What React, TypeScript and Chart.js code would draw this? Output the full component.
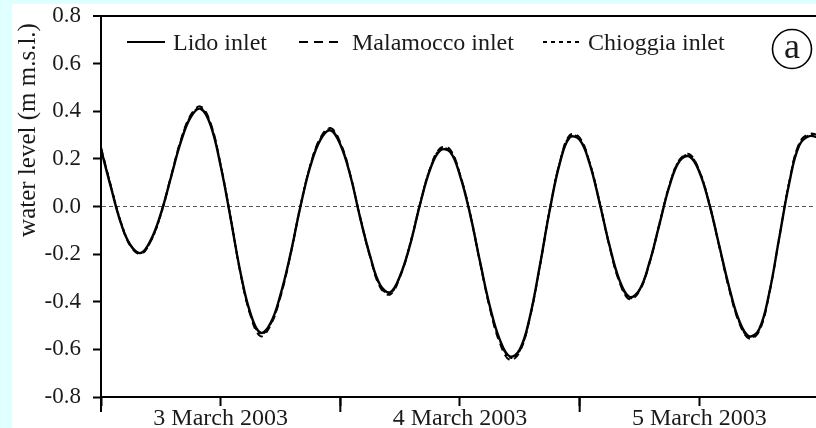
import React, { useEffect, useRef } from 'react';
import { Chart, registerables } from 'chart.js';

Chart.register(...registerables);

// ---- data (hours since 3 March 2003 00:00, water level in m m.s.l.) ----
const hours = [
  0, 1, 2, 3, 4, 5, 6, 7, 8, 9, 10, 11, 12, 13, 14, 15, 16, 17, 18, 19, 20, 21, 22, 23, 24,
  25, 26, 27, 28, 29, 30, 31, 32, 33, 34, 35, 36, 37, 38, 39, 40, 41, 42, 43, 44, 45, 46, 47, 48,
  49, 50, 51, 52, 53, 54, 55, 56, 57, 58, 59, 60, 61, 62, 63, 64, 65, 66, 67, 68, 69, 70, 71, 72,
];

const lido = [
  0.24, 0.08, -0.07, -0.165, -0.195, -0.14, -0.03, 0.12, 0.27, 0.375, 0.41, 0.34, 0.17, -0.05,
  -0.28, -0.45, -0.53, -0.49, -0.37, -0.2, 0.0, 0.17, 0.28, 0.32, 0.26, 0.13, -0.05, -0.21, -0.33,
  -0.36, -0.29, -0.16, 0.01, 0.155, 0.235, 0.23, 0.13, -0.03, -0.23, -0.42, -0.56, -0.63, -0.6,
  -0.465, -0.25, -0.015, 0.18, 0.29, 0.28, 0.18, 0.015, -0.165, -0.31, -0.38, -0.35, -0.235,
  -0.075, 0.085, 0.19, 0.21, 0.145, 0.01, -0.165, -0.34, -0.48, -0.545, -0.515, -0.365, -0.135,
  0.095, 0.255, 0.295, 0.29,
];

const malamocco = [
  0.25, 0.085, -0.07, -0.17, -0.2, -0.145, -0.03, 0.125, 0.28, 0.385, 0.42, 0.35, 0.175, -0.05,
  -0.285, -0.46, -0.545, -0.5, -0.38, -0.205, 0.0, 0.175, 0.29, 0.33, 0.27, 0.135, -0.05, -0.215,
  -0.34, -0.37, -0.295, -0.16, 0.01, 0.16, 0.245, 0.24, 0.135, -0.03, -0.235, -0.43, -0.575,
  -0.645, -0.61, -0.47, -0.255, -0.015, 0.185, 0.3, 0.29, 0.185, 0.015, -0.17, -0.32, -0.39,
  -0.355, -0.24, -0.075, 0.09, 0.195, 0.22, 0.15, 0.01, -0.17, -0.35, -0.49, -0.555, -0.525,
  -0.37, -0.135, 0.1, 0.265, 0.305, 0.3,
];

const chioggia = [
  0.245, 0.085, -0.065, -0.165, -0.195, -0.145, -0.035, 0.12, 0.275, 0.38, 0.415, 0.345, 0.175,
  -0.045, -0.28, -0.455, -0.535, -0.495, -0.375, -0.2, 0.005, 0.175, 0.285, 0.325, 0.265, 0.13,
  -0.045, -0.21, -0.335, -0.365, -0.29, -0.155, 0.015, 0.16, 0.24, 0.235, 0.135, -0.025, -0.23,
  -0.425, -0.565, -0.635, -0.605, -0.465, -0.25, -0.01, 0.185, 0.295, 0.285, 0.185, 0.02, -0.165,
  -0.315, -0.385, -0.35, -0.235, -0.07, 0.09, 0.195, 0.215, 0.15, 0.015, -0.165, -0.345, -0.485,
  -0.55, -0.52, -0.365, -0.13, 0.1, 0.26, 0.3, 0.295,
];

const seriesNames = ['Lido inlet', 'Malamocco inlet', 'Chioggia inlet'];
const dayLabels = ['3 March 2003', '4 March 2003', '5 March 2003'];
const dayNoonHours = [12, 36, 60];
const dayStartHours = [0, 24, 48, 72];
const xTickHours = [0, 12, 24, 36, 48, 60];
const yTitle = 'water level (m m.s.l.)';
const panelLetter = 'a';

const FONT = '"Liberation Serif", "Times New Roman", serif';
const INK = '#1a1a1a';

const decorPlugin = {
  id: 'decor',
  beforeDraw(chart: any) {
    const { ctx, width, height } = chart;
    ctx.save();
    ctx.fillStyle = '#e0ffff';
    ctx.fillRect(0, 0, width, height);
    ctx.fillStyle = '#ffffff';
    ctx.fillRect(12, 4, width - 12, height - 4);
    ctx.restore();
  },
  afterDraw(chart: any) {
    const { ctx, chartArea } = chart;
    const xs = chart.scales.x;
    ctx.save();
    // longer ticks at day boundaries
    ctx.strokeStyle = '#000';
    ctx.lineWidth = 2;
    dayStartHours.forEach((h) => {
      const px = xs.getPixelForValue(h);
      if (px < chartArea.left - 1 || px > chartArea.right + 1) return;
      ctx.beginPath();
      ctx.moveTo(px, chartArea.bottom);
      ctx.lineTo(px, chartArea.bottom + 15);
      ctx.stroke();
    });

    // y-axis title
    ctx.fillStyle = INK;
    ctx.font = `25px ${FONT}`;
    ctx.textAlign = 'center';
    ctx.textBaseline = 'alphabetic';
    ctx.translate(35, 130);
    ctx.rotate(-Math.PI / 2);
    ctx.fillText(yTitle, 0, 0);
    ctx.setTransform(1, 0, 0, 1, 0, 0);

    // legend
    const legendY = 42;
    const items = [
      { x0: 127, x1: 165, tx: 173, dash: [] as number[] },
      { x0: 299, x1: 338, tx: 352, dash: [9, 6] },
      { x0: 543, x1: 580, tx: 588, dash: [4, 4] },
    ];
    ctx.font = `24px ${FONT}`;
    ctx.textAlign = 'left';
    ctx.textBaseline = 'alphabetic';
    items.forEach((it, i) => {
      ctx.strokeStyle = '#000';
      ctx.lineWidth = 2;
      ctx.setLineDash(it.dash);
      ctx.beginPath();
      ctx.moveTo(it.x0, legendY);
      ctx.lineTo(it.x1, legendY);
      ctx.stroke();
      ctx.setLineDash([]);
      ctx.fillStyle = INK;
      ctx.fillText(seriesNames[i], it.tx, 50);
    });

    // panel letter in circle
    ctx.lineWidth = 1.6;
    ctx.strokeStyle = '#000';
    ctx.beginPath();
    ctx.arc(792, 49, 19.5, 0, Math.PI * 2);
    ctx.stroke();
    ctx.font = `36px ${FONT}`;
    ctx.textAlign = 'center';
    ctx.fillStyle = INK;
    ctx.fillText(panelLetter, 792, 58);
    ctx.restore();
  },
};

const isZero = (v: number) => Math.abs(v) < 1e-9;
const isTop = (v: number) => Math.abs(v - 0.8) < 1e-9;

export default function App() {
  const ref = useRef<HTMLCanvasElement | null>(null);

  useEffect(() => {
    if (!ref.current) return;
    const mk = (vals: number[]) => hours.map((h, i) => ({ x: h, y: vals[i] }));
    const chart = new Chart(ref.current, {
      type: 'line',
      data: {
        datasets: [
          {
            label: seriesNames[0],
            data: mk(lido),
            borderColor: '#000',
            borderWidth: 2.4,
            pointRadius: 0,
            tension: 0.4,
            fill: false,
          },
          {
            label: seriesNames[1],
            data: mk(malamocco),
            borderColor: '#000',
            borderWidth: 1.8,
            borderDash: [7, 5],
            pointRadius: 0,
            tension: 0.4,
            fill: false,
          },
          {
            label: seriesNames[2],
            data: mk(chioggia),
            borderColor: '#000',
            borderWidth: 1.8,
            borderDash: [3, 3],
            pointRadius: 0,
            tension: 0.4,
            fill: false,
          },
        ],
      },
      options: {
        responsive: false,
        animation: false,
        devicePixelRatio: 1,
        layout: { padding: { top: 16, right: 0, left: 0, bottom: 0 } },
        plugins: {
          legend: { display: false },
          tooltip: { enabled: false },
          title: { display: false },
        },
        scales: {
          x: {
            type: 'linear',
            min: 0,
            max: 71.7,
            afterBuildTicks: (scale: any) => {
              scale.ticks = xTickHours.map((v) => ({ value: v }));
            },
            afterFit: (scale: any) => {
              scale.height = 31;
              scale.paddingLeft = 0;
              scale.paddingRight = 0;
            },
            ticks: {
              autoSkip: false,
              maxRotation: 0,
              padding: -2,
              color: INK,
              font: { family: FONT, size: 24 },
              callback: (v: any) => {
                const idx = dayNoonHours.indexOf(Number(v));
                return idx >= 0 ? dayLabels[idx] : '';
              },
            },
            grid: {
              drawOnChartArea: false,
              drawTicks: true,
              tickLength: 9,
              tickWidth: 2,
              tickColor: '#000',
            },
            border: { display: true, color: '#000', width: 2 },
          },
          y: {
            type: 'linear',
            min: -0.8,
            max: 0.8,
            afterFit: (scale: any) => {
              scale.width = 101;
              scale.paddingTop = 0;
              scale.paddingBottom = 0;
            },
            ticks: {
              stepSize: 0.2,
              padding: 12,
              color: INK,
              font: { family: FONT, size: 23 },
              callback: (v: any) => {
                const n = Number(v);
                return isZero(n) ? '0.0' : n.toFixed(1);
              },
            },
            grid: {
              drawOnChartArea: true,
              drawTicks: true,
              tickLength: 8,
              tickWidth: 2,
              tickColor: '#000',
              color: (c: any) => {
                if (!c.tick) return 'rgba(0,0,0,0)';
                if (isTop(c.tick.value)) return '#000';
                if (isZero(c.tick.value)) return '#555';
                return 'rgba(0,0,0,0)';
              },
              lineWidth: (c: any) => (c.tick && isTop(c.tick.value) ? 2 : 1),
            },
            border: {
              display: true,
              color: '#000',
              width: 2,
              dash: (c: any) => (c.tick && isZero(c.tick.value) ? [4, 3] : []),
            },
          },
        },
      },
      plugins: [decorPlugin],
    } as any);
    return () => chart.destroy();
  }, []);

  return (
    <canvas
      ref={ref}
      width={816}
      height={428}
      style={{ position: 'fixed', left: 0, top: 0, width: 816, height: 428, display: 'block' }}
    />
  );
}
